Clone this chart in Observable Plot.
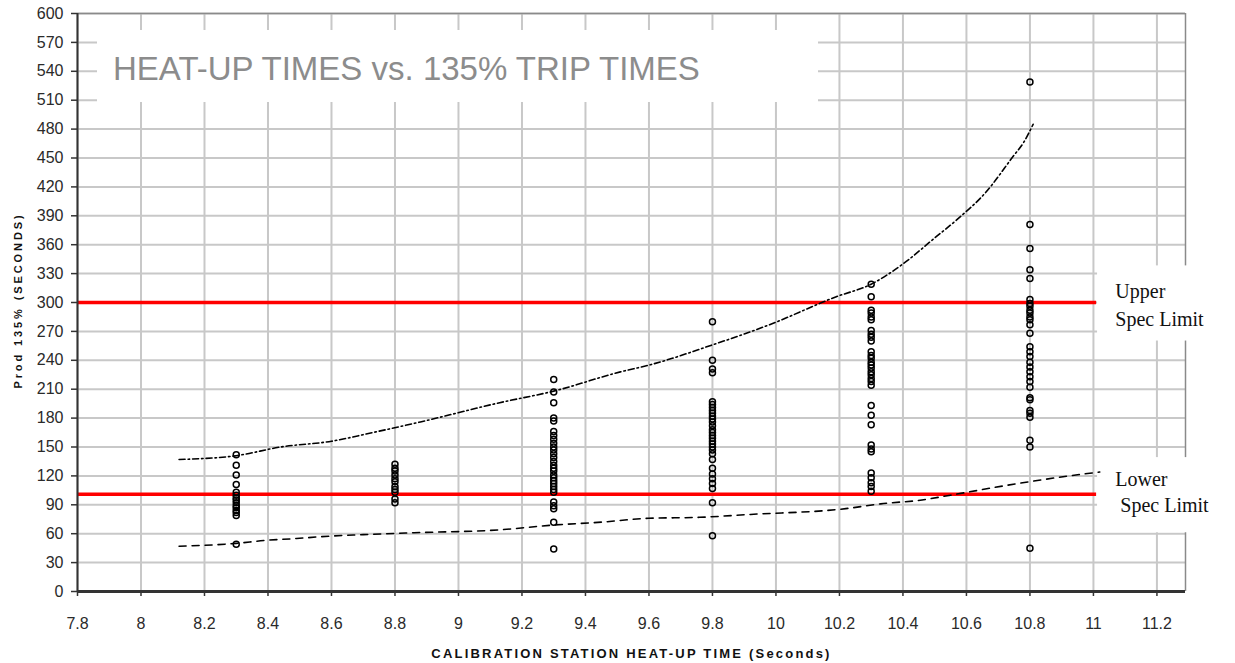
<!DOCTYPE html>
<html>
<head>
<meta charset="utf-8">
<script src="https://cdn.jsdelivr.net/npm/d3@7"></script>
<script src="https://cdn.jsdelivr.net/npm/@observablehq/plot@0.6"></script>
<style>
  html, body { margin: 0; padding: 0; background: white; }
  #chart { position: relative; width: 1235px; height: 663px; }
  #title {
    position: absolute; left: 97px; top: 30px; width: 721px; height: 72px;
    background: white; box-sizing: border-box; padding: 22px 0 0 16px;
    font-family: "Liberation Sans", Arial, sans-serif; font-size: 33px; line-height: 1;
    color: #8c8c8c; white-space: nowrap;
  }
</style>
</head>
<body>
<div id="chart"></div>
<script>
// ---- data ----
const titleText = "HEAT-UP TIMES vs. 135% TRIP TIMES";
const xTitle = "CALIBRATION STATION HEAT-UP TIME (Seconds)";
const yTitle = "Prod 135% (SECONDS)";

const xTicks = [7.8, 8, 8.2, 8.4, 8.6, 8.8, 9, 9.2, 9.4, 9.6, 9.8, 10, 10.2, 10.4, 10.6, 10.8, 11, 11.2];
const yTicks = [0, 30, 60, 90, 120, 150, 180, 210, 240, 270, 300, 330, 360, 390, 420, 450, 480, 510, 540, 570, 600];

const heatUp = [8.3, 8.8, 9.3, 9.8, 10.3, 10.8];
const trip83 = [142, 131, 121, 111, 103, 100, 97, 95, 92, 89, 87, 84, 82, 79, 49];
const trip88 = [132, 128, 125, 121, 117, 114, 109, 106, 103, 96, 92];
const trip93 = [220, 207, 196, 180, 177, 166, 162, 158, 154, 150, 147, 143, 139, 135, 131, 128, 125, 121, 118, 115, 112, 109, 106, 103, 93, 89, 86, 72, 44];
const trip98 = [280, 240, 231, 227, 197, 194, 191, 188, 185, 182, 179, 176, 172, 168, 165, 162, 159, 156, 153, 150, 147, 143, 137, 128, 122, 117, 112, 107, 92, 58];
const trip103 = [319, 306, 292, 289, 285, 282, 271, 267, 264, 260, 249, 245, 242, 238, 235, 232, 228, 225, 221, 218, 214, 193, 183, 173, 152, 148, 145, 123, 118, 113, 109, 104];
const trip108 = [529, 381, 356, 334, 325, 303, 299, 296, 292, 289, 285, 282, 277, 268, 254, 249, 244, 238, 233, 228, 223, 218, 212, 201, 199, 188, 185, 181, 157, 150, 45];

const upperFitX = [8.12, 8.3, 8.44, 8.6, 8.73, 8.88, 9.13, 9.3, 9.51, 9.6, 9.8, 9.98, 10.19, 10.3, 10.4, 10.5, 10.57, 10.66, 10.75, 10.78, 10.81];
const upperFitY = [137, 141, 150, 156, 165, 176, 196, 208, 228, 235, 256, 277, 306, 319, 340, 367, 386, 414, 453, 466, 485];
const lowerFitX = [8.12, 8.3, 8.39, 8.49, 8.57, 8.7, 8.86, 9.13, 9.3, 9.45, 9.6, 9.76, 9.92, 10.22, 10.33, 10.46, 10.55, 10.76, 10.97, 11.02];
const lowerFitY = [47, 50, 53, 55, 57, 59, 61, 64, 69, 72, 76, 77, 80, 86, 91, 95, 100, 112, 122, 124];

const specLimits = [300, 101];
const upperLabel = "Upper\nSpec Limit";
const lowerLabel = "Lower\n\u00a0Spec Limit";
const specLineStart = 7.8, specLineEnd = 11.01, specLabelX = 11.069;
const xMax = 11.29;

// ---- build tables ----
const columns = [trip83, trip88, trip93, trip98, trip103, trip108];
const points = columns.flatMap((vals, i) => vals.map(v => ({x: heatUp[i], y: v})));
const upperFit = upperFitX.map((x, i) => ({x, y: upperFitY[i]}));
const lowerFit = lowerFitX.map((x, i) => ({x, y: lowerFitY[i]}));

const labelFont = "'Liberation Serif', 'Times New Roman', serif";

const plot = Plot.plot({
  width: 1235,
  height: 663,
  marginLeft: 77,
  marginRight: 50,
  marginTop: 13,
  marginBottom: 72,
  style: {fontFamily: "'Liberation Sans', Arial, sans-serif", fontSize: "16px", color: "#2a2a2a", background: "white", overflow: "visible"},
  x: {domain: [7.8, xMax], label: null},
  y: {domain: [0, 600], label: null},
  marks: [
    Plot.gridX(xTicks, {stroke: "#c8c8c8", strokeOpacity: 1, strokeWidth: 2}),
    Plot.gridY(yTicks, {stroke: "#c8c8c8", strokeOpacity: 1, strokeWidth: 2}),
    Plot.ruleX([xMax], {stroke: "#8a8a8a", strokeWidth: 1.5}),
    Plot.ruleY([600], {stroke: "#8a8a8a", strokeWidth: 1.5}),
    // white backgrounds behind the spec-limit labels
    Plot.rect(specLimits, {x1: () => specLineEnd + 0.003, x2: () => xMax + 0.2, y1: d => d - 40, y2: d => d + 38, fill: "white"}),
    Plot.ruleY(specLimits, {y: d => d, x1: () => specLineStart, x2: () => specLineEnd, stroke: "#ff0000", strokeWidth: 3.5}),
    Plot.line(upperFit, {x: "x", y: "y", curve: "monotone-x", stroke: "black", strokeWidth: 1.6, strokeDasharray: "6,3,1.5,3"}),
    Plot.line(lowerFit, {x: "x", y: "y", curve: "monotone-x", stroke: "black", strokeWidth: 1.6, strokeDasharray: "7,6"}),
    Plot.dot(points, {x: "x", y: "y", r: 3, stroke: "black", strokeWidth: 1.5, fill: "none"}),
    Plot.axisX(xTicks, {tickSize: 5, tickPadding: 21, tickFormat: d => String(d), fontSize: 16, stroke: "#333", strokeWidth: 1.5}),
    Plot.axisY(yTicks, {tickSize: 6, tickPadding: 8, fontSize: 16, stroke: "#333", strokeWidth: 1.5}),
    Plot.ruleX([7.8], {stroke: "#333", strokeWidth: 2}),
    Plot.ruleY([0], {stroke: "#333", strokeWidth: 3}),
    Plot.text([specLimits[0]], {x: () => specLabelX, y: d => d, text: () => upperLabel, textAnchor: "start", lineHeight: 1.4, dy: 1, fontFamily: labelFont, fontSize: 20, fill: "#111"}),
    Plot.text([specLimits[1]], {x: () => specLabelX, y: d => d, text: () => lowerLabel, textAnchor: "start", lineHeight: 1.3, dy: -4, fontFamily: labelFont, fontSize: 20, fill: "#111"}),
    Plot.text([xTitle], {frameAnchor: "bottom", dy: 66, text: d => d, textAnchor: "middle", fontWeight: "bold", fontSize: 13, fill: "#111"}),
    Plot.text([yTitle], {frameAnchor: "left", dx: -59, dy: -2, rotate: -90, text: d => d, textAnchor: "middle", fontWeight: "bold", fontSize: 11, fill: "#111"})
  ]
});

// letter spacing for the axis titles
plot.querySelectorAll("text").forEach(t => {
  if (t.textContent === xTitle) t.style.letterSpacing = "2.2px";
  if (t.textContent === yTitle) t.style.letterSpacing = "2.9px";
});

const chart = document.getElementById("chart");
chart.appendChild(plot);
const title = document.createElement("div");
title.id = "title";
title.textContent = titleText;
chart.appendChild(title);
</script>
</body>
</html>
